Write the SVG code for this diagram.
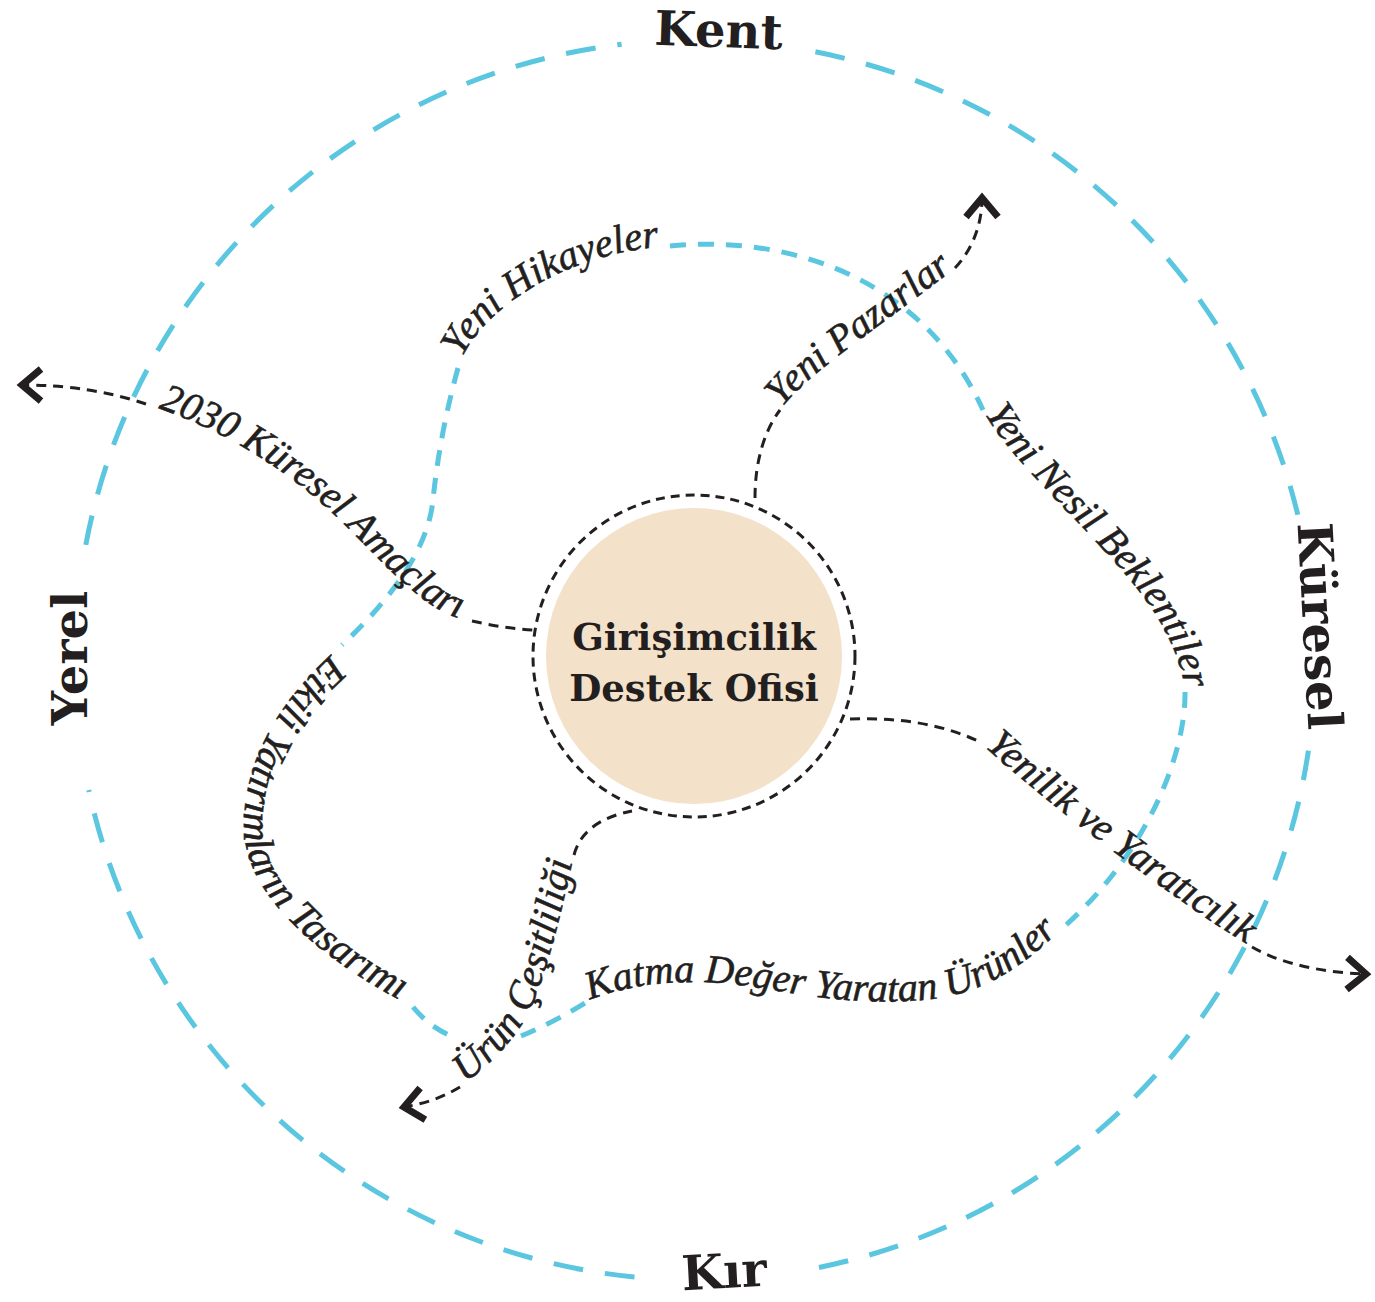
<svg xmlns="http://www.w3.org/2000/svg" width="1375" height="1302" viewBox="0 0 1375 1302">
<defs>
<style>
.ring{fill:none;stroke:#5BC6DF;stroke-width:5;stroke-dasharray:30 22}
.loop{fill:none;stroke:#5BC6DF;stroke-width:5;stroke-dasharray:16 12}
.conn{fill:none;stroke:#231F20;stroke-width:3;stroke-dasharray:10 7}
.arrow{marker-end:url(#chev)}
.lbl{font-family:"Liberation Serif","Times New Roman",serif;font-style:italic;font-size:40px;fill:#231F20;stroke:#231F20;stroke-width:0.6}
.big{font-family:"DejaVu Serif",serif;font-weight:bold;font-size:48px;fill:#231F20}
.ctr{font-family:"DejaVu Serif",serif;font-weight:bold;font-size:37px;fill:#231F20}
</style>
<marker id="chev" markerUnits="userSpaceOnUse" viewBox="-30 -25 40 50" markerWidth="40" markerHeight="50" refX="0" refY="0" orient="auto" overflow="visible">
<path d="M -19 -16 L 0 0 L -19 16" fill="none" stroke="#231F20" stroke-width="7" stroke-linejoin="miter"/>
</marker>
<path id="t-hik" d="M 458 368 C 475 315, 560 252, 670 246"/>
<path id="t-nesil" d="M 983 410 C 1008 458, 1080 520, 1130 580 C 1165 622, 1182 660, 1185 692"/>
<path id="t-katma" d="M 590 1000 C 640 980, 700 978, 760 988 C 830 1000, 880 1006, 940 998 C 990 990, 1030 960, 1058 932"/>
<path id="t-etkili" d="M 342 645 C 288 690, 242 755, 244 830 C 246 900, 330 965, 413 1007"/>
<path id="t-kuresel" d="M 146 404 C 220 428, 290 470, 345 525 C 400 580, 430 615, 472 621"/>
<path id="t-pazar" d="M 780 410 C 810 370, 890 320, 955 268"/>
<path id="t-yenilik" d="M 980 742 C 1035 795, 1180 905, 1252 947"/>
<path id="t-urun" d="M 460 1087 C 490 1065, 515 1040, 530 1010 C 548 970, 562 910, 574 855"/>
</defs>

<g id="ring-outer">
<path class="ring" d="M 815.4 51.8 A 620 620 0 0 1 1297.9 515.3"/>
<path class="ring" d="M 1308.4 750.6 A 620 620 0 0 1 815.4 1268.2"/>
<path class="ring" d="M 634.5 1277 A 620 620 0 0 1 88.8 790"/>
<path class="ring" d="M 85.8 544.9 A 620 620 0 0 1 621.6 44.3"/>
<text class="big" x="718" y="47" text-anchor="middle" transform="rotate(2 718 47)">Kent</text>
<text class="big" x="1303" y="627" text-anchor="middle" transform="rotate(87 1303 627)">Küresel</text>
<text class="big" x="725" y="1288" text-anchor="middle" transform="rotate(-3 725 1288)">Kır</text>
<text class="big" x="87" y="658" text-anchor="middle" transform="rotate(-90 87 658)">Yerel</text>
</g>

<g id="loop-inner">
<path class="loop" d="M 670 246 C 795 234, 925 282, 983 410"/>
<path class="loop" d="M 1185 692 C 1186 752, 1148 855, 1058 932"/>
<path class="loop" d="M 413 1007 Q 432 1030 457 1038"/>
<path class="loop" d="M 521 1036 Q 555 1022 590 1000"/>
<path class="loop" d="M 458 368 C 445 415, 437 460, 433 500 C 428 550, 390 600, 342 645"/>
<text class="lbl"><textPath href="#t-hik" startOffset="50%" text-anchor="middle">Yeni Hikayeler</textPath></text>
<text class="lbl"><textPath href="#t-nesil" startOffset="50%" text-anchor="middle">Yeni Nesil Beklentiler</textPath></text>
<text class="lbl"><textPath href="#t-katma" startOffset="50%" text-anchor="middle">Katma Değer Yaratan Ürünler</textPath></text>
<text class="lbl"><textPath href="#t-etkili" startOffset="50%" text-anchor="middle">Etkili Yatırımların Tasarımı</textPath></text>
</g>

<g id="connectors">
<path class="conn arrow" d="M 146 404 C 110 392, 70 385, 22 385"/>
<path class="conn" d="M 472 621 C 490 625, 512 629, 533 630"/>
<path class="conn" d="M 755 498 C 755 460, 765 430, 780 410"/>
<path class="conn arrow" d="M 955 268 C 972 250, 982 225, 982 198"/>
<path class="conn" d="M 850 719 C 900 717, 945 725, 980 742"/>
<path class="conn arrow" d="M 1252 947 C 1285 966, 1330 973, 1366 974"/>
<path class="conn" d="M 574 855 C 580 832, 600 817, 632 811"/>
<path class="conn arrow" d="M 460 1087 C 440 1099, 422 1104, 404 1107"/>
<text class="lbl"><textPath href="#t-kuresel" startOffset="50%" text-anchor="middle">2030 Küresel Amaçları</textPath></text>
<text class="lbl"><textPath href="#t-pazar" startOffset="50%" text-anchor="middle">Yeni Pazarlar</textPath></text>
<text class="lbl"><textPath href="#t-yenilik" startOffset="50%" text-anchor="middle">Yenilik ve Yaratıcılık</textPath></text>
<text class="lbl"><textPath href="#t-urun" startOffset="50%" text-anchor="middle">Ürün Çeşitliliği</textPath></text>
</g>

<g id="node-center">
<circle cx="694" cy="656" r="148" fill="#F4E1C9"/>
<circle cx="694" cy="656" r="161" fill="none" stroke="#231F20" stroke-width="3" stroke-dasharray="9 6"/>
<text class="ctr" x="694" y="650" text-anchor="middle">Girişimcilik</text>
<text class="ctr" x="694" y="701" text-anchor="middle">Destek Ofisi</text>
</g>
</svg>
